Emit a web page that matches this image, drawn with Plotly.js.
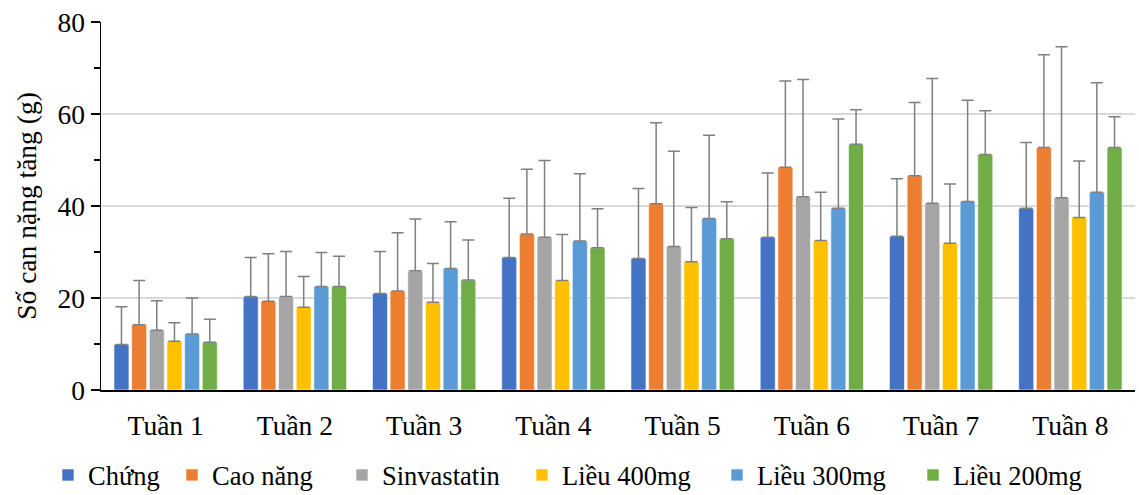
<!DOCTYPE html>
<html>
<head>
<meta charset="utf-8">
<script src="https://cdn.plot.ly/plotly-3.0.1.min.js"></script>
<style>html,body{margin:0;padding:0;background:#fff;}#chart{width:1139px;height:495px;}</style>
</head>
<body>
<div id="chart"></div>
<script>
const categories = ["Tuần 1","Tuần 2","Tuần 3","Tuần 4","Tuần 5","Tuần 6","Tuần 7","Tuần 8"];
const seriesNames = ["Chứng","Cao năng","Sinvastatin","Liều 400mg","Liều 300mg","Liều 200mg"];
const seriesColors = ["#4472C4","#ED7D31","#A5A5A5","#FFC000","#5B9BD5","#70AD47"];
const yTickVals = [0, 20, 40, 60, 80];

const chung       = [9.9, 20.3, 21.0, 28.8, 28.6, 33.2, 33.4, 39.5];
const caoNang     = [14.2, 19.3, 21.5, 33.9, 40.5, 48.4, 46.6, 52.7];
const sinvastatin = [13.0, 20.3, 25.9, 33.2, 31.2, 42.0, 40.6, 41.8];
const lieu400     = [10.6, 18.0, 19.1, 23.8, 27.9, 32.5, 31.9, 37.5];
const lieu300     = [12.2, 22.5, 26.4, 32.4, 37.3, 39.5, 41.0, 43.0];
const lieu200     = [10.4, 22.5, 23.9, 30.9, 32.9, 53.4, 51.2, 52.7];

const sdChung       = [8.2, 8.5, 9.1, 12.9, 15.2, 14.0, 12.5, 14.3];
const sdCaoNang     = [9.6, 10.3, 12.7, 14.1, 17.6, 18.8, 15.9, 20.2];
const sdSinvastatin = [6.4, 9.8, 11.3, 16.7, 20.7, 25.5, 27.1, 32.8];
const sdLieu400     = [4.0, 6.7, 8.4, 10.0, 11.8, 10.5, 12.9, 12.3];
const sdLieu300     = [7.8, 7.4, 10.2, 14.6, 18.1, 19.4, 22.0, 23.8];
const sdLieu200     = [5.0, 6.6, 8.7, 8.5, 8.0, 7.5, 9.5, 6.7];

const values = [chung, caoNang, sinvastatin, lieu400, lieu300, lieu200];
const sds = [sdChung, sdCaoNang, sdSinvastatin, sdLieu400, sdLieu300, sdLieu200];

const font = "'Liberation Serif', 'Times New Roman', serif";
// legend entry left positions (px, container coords)
const legendLeft = [48, 172, 342, 522, 717, 913];
const legendKeys = ["legend", "legend2", "legend3", "legend4", "legend5", "legend6"];

const traces = seriesNames.map((name, i) => ({
  type: "bar",
  name: name,
  x: categories,
  y: values[i],
  legend: legendKeys[i],
  marker: {color: seriesColors[i], line: {color: "rgba(255,255,255,0.6)", width: 1}},
  error_y: {
    type: "data",
    symmetric: false,
    array: sds[i],
    arrayminus: sds[i].map(() => 0),
    color: "#7f7f7f",
    thickness: 1.5,
    width: 6
  }
}));

const layout = {
  width: 1139,
  height: 495,
  margin: {l: 101, r: 4, t: 22, b: 105},
  paper_bgcolor: "#fff",
  plot_bgcolor: "#fff",
  barmode: "group",
  bargap: 0.18,
  bargroupgap: 0.15,
  font: {family: font, color: "#000", size: 27},
  xaxis: {
    showline: true,
    linecolor: "#000",
    linewidth: 2,
    ticks: "",
    ticklabelstandoff: 10,
    tickfont: {family: font, size: 27.5, color: "#000"},
    showgrid: false,
    fixedrange: true
  },
  yaxis: {
    range: [0, 80],
    tickvals: yTickVals,
    showline: true,
    linecolor: "#000",
    linewidth: 1.5,
    ticks: "outside",
    ticklen: 9,
    tickcolor: "#000",
    tickwidth: 1.5,
    minor: {dtick: 10, ticks: "outside", ticklen: 6, tickcolor: "#000", tickwidth: 1.5, showgrid: false},
    showgrid: true,
    gridcolor: "#d9d9d9",
    gridwidth: 1.5,
    zeroline: false,
    tickfont: {family: font, size: 27.5, color: "#000"},
    title: {text: "Số can nặng tăng (g)", font: {family: font, size: 27.5, color: "#000"}, standoff: 13}
  },
  showlegend: true
};

legendKeys.forEach((k, i) => {
  layout[k] = {
    orientation: "h",
    xref: "container",
    yref: "container",
    x: legendLeft[i] / 1139,
    xanchor: "left",
    y: 0.04,
    yanchor: "middle",
    font: {family: font, size: 26.5, color: "#000"},
    itemwidth: 30,
    bgcolor: "rgba(0,0,0,0)"
  };
});

Plotly.newPlot("chart", traces, layout, {displayModeBar: false, staticPlot: true});
</script>
</body>
</html>
